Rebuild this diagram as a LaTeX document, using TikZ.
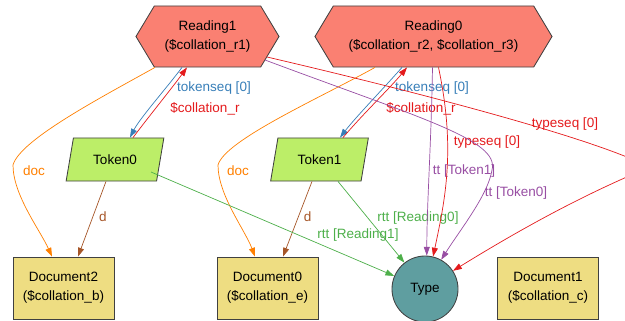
\documentclass[tikz,border=0pt]{standalone}
\usepackage{fontspec}
\setmainfont{Liberation Sans}
\usetikzlibrary{shapes.geometric,shapes.symbols,arrows.meta}
\definecolor{salmon}{HTML}{FA8072}
\definecolor{tokgreen}{HTML}{BCEE68}
\definecolor{docgold}{HTML}{EEDD82}
\definecolor{cadet}{HTML}{5F9EA0}
\definecolor{ered}{HTML}{E41A1C}
\definecolor{eblue}{HTML}{377EB8}
\definecolor{egreen}{HTML}{4DAF4A}
\definecolor{epurple}{HTML}{984EA3}
\definecolor{eorange}{HTML}{FF7F00}
\definecolor{ebrown}{HTML}{A65628}
\begin{document}
\begin{tikzpicture}
	[x=0.025cm, y=-0.025cm,
	every node/.style={font=\fontsize{9.6}{13.5}\selectfont, align=center},
	shapebox/.style={draw=black!75, line width=0.6pt, inner sep=0pt},
	reading/.style={shapebox, fill=salmon, signal, signal to=west and east,
		signal pointer angle=118, minimum height=1.525cm},
	token/.style={shapebox, fill=tokgreen, trapezium, trapezium stretches=true,
		trapezium left angle=69, trapezium right angle=111,
		minimum width=2.45cm, minimum height=1.075cm},
	document/.style={shapebox, fill=docgold, rectangle,
		minimum width=2.525cm, minimum height=1.55cm},
	typenode/.style={shapebox, fill=cadet, circle, minimum size=1.65cm},
	link/.style={line width=0.5pt, -{Triangle[length=0.22cm, width=0.15cm]}}]
	\useasboundingbox (0,0) rectangle (625,321);
	\clip (0,0) rectangle (625,321);
	% nodes
	\node [reading, minimum width=3.575cm] (R1) at (207.5,36.5) {Reading1\\(\$collation\_r1)};
	\node [reading, minimum width=5.925cm] (R0) at (433.5,36.5) {Reading0\\(\$collation\_r2, \$collation\_r3)};
	\node [token] (T0) at (115,159.5) {Token0};
	\node [token] (T1) at (319.5,159.5) {Token1};
	\node [document] (D2) at (63.5,288) {Document2\\(\$collation\_b)};
	\node [document] (D0) at (267.5,288) {Document0\\(\$collation\_e)};
	\node [document] (D1) at (548,288) {Document1\\(\$collation\_c)};
	\node [typenode] (Ty) at (425,289) {Type};
	% doc
	\draw [link, eorange] ([shift={(-52.5,0)}]R1.south) .. controls (100,98) and (20,140) .. (13,165)
		.. controls (13,195) and (40,230) .. ([shift={(-11.5,0)}]D2.north)
		node [text=eorange] at (34,171) {doc};
	\draw [link, eorange] ([shift={(-58.5,0)}]R0.south) .. controls (320,98) and (225,140) .. (218,165)
		.. controls (218,195) and (245,230) .. ([shift={(-12.5,0)}]D0.north)
		node [text=eorange] at (238,171) {doc};
	% tokenseq / collation
	\draw [link, eblue] ([shift={(-25.5,0)}]R1.south) .. controls (165,90) and (140,118) .. ([shift={(15,0)}]T0.north)
		node [text=eblue] at (214,88) {tokenseq [0]};
	\draw [link, ered] ([shift={(18,0)}]T0.north) .. controls (150,115) and (172,88) .. ([shift={(-20.5,0)}]R1.south)
		node [text=ered] at (205,109) {\$collation\_r};
	\draw [link, eblue] ([shift={(-31.5,0)}]R0.south) .. controls (382,90) and (355,118) .. ([shift={(20.5,0)}]T1.north)
		node [text=eblue] at (432,88) {tokenseq [0]};
	\draw [link, ered] ([shift={(23.5,0)}]T1.north) .. controls (362,115) and (390,88) .. ([shift={(-26.5,0)}]R0.south)
		node [text=ered] at (421,109) {\$collation\_r};
	% d
	\draw [link, ebrown] ([shift={(-9,0)}]T0.south) -- ([shift={(14.5,0)}]D2.north)
		node [text=ebrown] at (103,217) {d};
	\draw [link, ebrown] ([shift={(-7.5,0)}]T1.south) -- ([shift={(15.5,0)}]D0.north)
		node [text=ebrown] at (307.5,217) {d};
	% rtt
	\draw [link, egreen] ([shift={(36,12.5)}]T0.center) -- (Ty.157)
		node [text=egreen] at (358,235) {rtt [Reading1]};
	\draw [link, egreen] ([shift={(18.5,0)}]T1.south) -- (Ty.128)
		node [text=egreen] at (418,218) {rtt [Reading0]};
	% tt / typeseq
	\draw [link, epurple] ([shift={(-1,0)}]R0.south) .. controls (431,150) and (427,200) .. (Ty.87)
		node [text=epurple] at (464,171) {tt [Token1]};
	\draw [link, ered] ([shift={(5,0)}]R0.south) .. controls (456,150) and (445,200) .. (Ty.76)
		node [text=ered] at (487,142) {typeseq [0]};
	\draw [link, epurple] ([shift={(57.5,23.5)}]R1.center) .. controls (420,118) and (500,140) .. (492,170)
		.. controls (488,195) and (460,230) .. (Ty.61)
		node [text=epurple] at (516,193) {tt [Token0]};
	\draw [link, ered] ([shift={(59.5,20.5)}]R1.center) .. controls (430,95) and (590,138) .. (645,165)
		.. controls (655,170) and (600,180) .. (Ty.33)
		node [text=ered] at (565,124) {typeseq [0]};
\end{tikzpicture}
\end{document}
